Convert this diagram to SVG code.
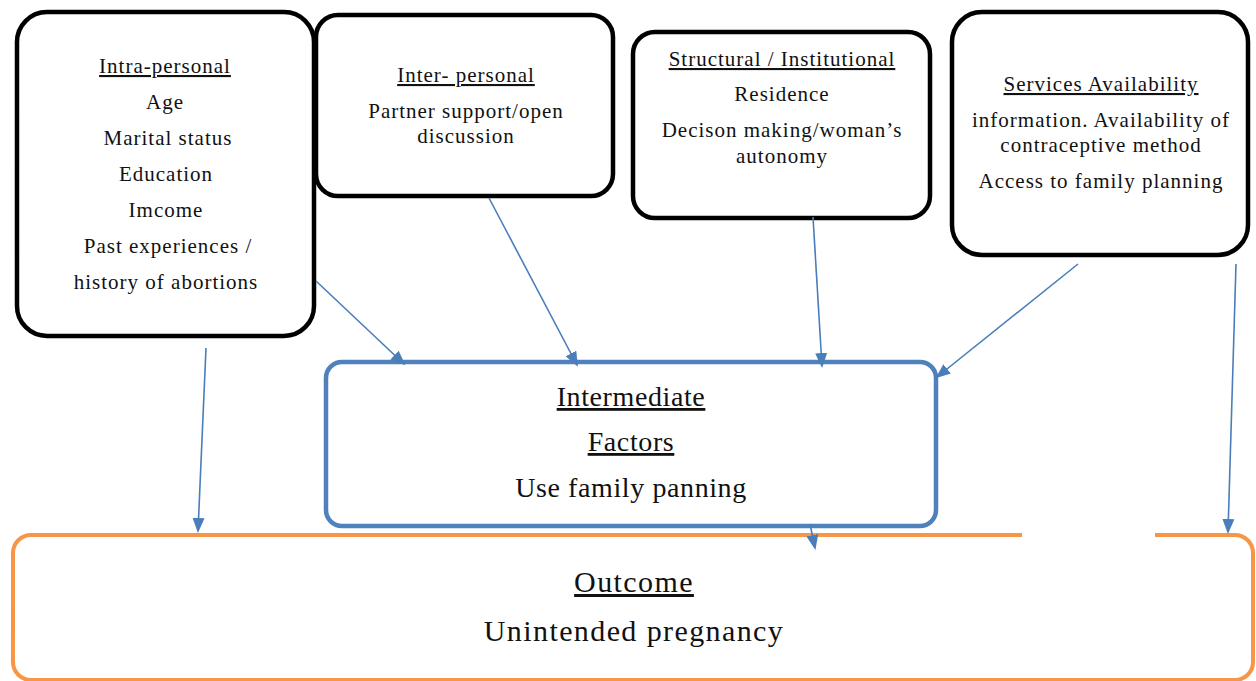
<svg xmlns="http://www.w3.org/2000/svg" width="1256" height="681" viewBox="0 0 1256 681">
<style>
.blk{fill:#fff;stroke:#000;stroke-width:4.5}
.t{font-family:"Liberation Serif","Times New Roman",serif;fill:#111;text-anchor:middle}
.s{font-size:21px;letter-spacing:1px}
.l{font-size:28px;letter-spacing:0.6px}
.o{font-size:30px;letter-spacing:1.4px}
.u{text-decoration:underline}
.c{stroke:#4A7EBB;stroke-width:1.6;fill:none;marker-end:url(#ah)}
</style>
<defs>
<marker id="ah" markerUnits="userSpaceOnUse" markerWidth="16" markerHeight="14" refX="13" refY="6" orient="auto" viewBox="0 0 16 12">
<path d="M0,0 L15,6 L0,12 Z" fill="#4A7EBB"/>
</marker>
</defs>
<rect width="1256" height="681" fill="#fff"/>
<g id="outcome">
<rect x="13" y="535" width="1240" height="145" rx="18" fill="#fff" stroke="#F79646" stroke-width="4"/>
<rect x="1022" y="530" width="133" height="10" fill="#fff"/>
<text class="t o u" x="634" y="592">Outcome</text>
<text class="t o" x="634" y="641">Unintended pregnancy</text>
</g>
<g id="intermediate">
<rect x="326" y="362" width="610" height="164" rx="16" fill="#fff" stroke="#4F81BD" stroke-width="4.5"/>
<text class="t l u" x="631" y="406">Intermediate</text>
<text class="t l u" x="631" y="451">Factors</text>
<text class="t l" x="631" y="497">Use family panning</text>
</g>
<g id="intra">
<rect class="blk" x="17" y="12" width="297" height="324" rx="30"/>
<text class="t s u" x="165" y="73">Intra-personal</text>
<text class="t s" x="165" y="109">Age</text>
<text class="t s" x="168" y="145">Marital status</text>
<text class="t s" x="166" y="181">Education</text>
<text class="t s" x="166" y="217">Imcome</text>
<text class="t s" x="168" y="253">Past experiences /</text>
<text class="t s" x="166" y="289">history of abortions</text>
</g>
<g id="inter">
<rect class="blk" x="316" y="15" width="297" height="181" rx="22"/>
<text class="t s u" x="466" y="82">Inter- personal</text>
<text class="t s" x="466" y="118">Partner support/open</text>
<text class="t s" x="466" y="143">discussion</text>
</g>
<g id="structural">
<rect class="blk" x="633" y="32" width="297" height="186" rx="22"/>
<text class="t s u" x="782" y="66">Structural / Institutional</text>
<text class="t s" x="782" y="101">Residence</text>
<text class="t s" x="782" y="137">Decison making/woman’s</text>
<text class="t s" x="782" y="163">autonomy</text>
</g>
<g id="services">
<rect class="blk" x="952" y="12" width="296" height="243" rx="30"/>
<text class="t s u" x="1101" y="91">Services Availability</text>
<text class="t s" x="1101" y="127">information. Availability of</text>
<text class="t s" x="1101" y="152">contraceptive method</text>
<text class="t s" x="1101" y="188">Access to family planning</text>
</g>
<g id="connectors">
<line class="c" x1="206" y1="348" x2="198" y2="531"/>
<line class="c" x1="316" y1="281" x2="404" y2="364"/>
<line class="c" x1="489" y1="198" x2="577" y2="365"/>
<line class="c" x1="813" y1="217" x2="822" y2="366"/>
<line class="c" x1="1078" y1="264" x2="937" y2="377"/>
<line class="c" x1="1236" y1="264" x2="1228" y2="532"/>
<line class="c" x1="810" y1="524" x2="815" y2="548"/>
</g>
</svg>
